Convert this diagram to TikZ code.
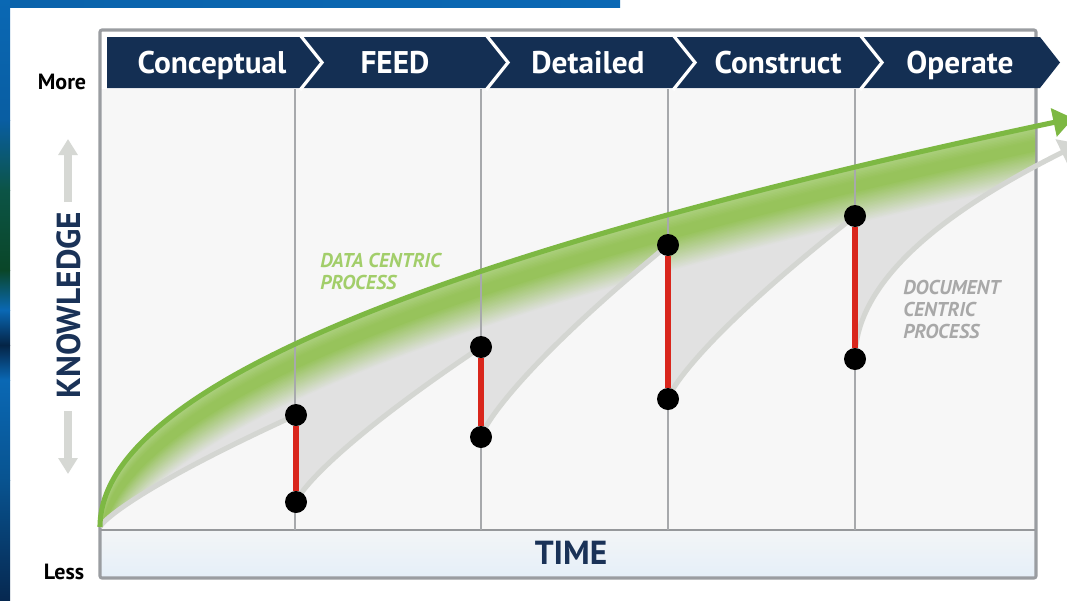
\documentclass[tikz,border=0pt]{standalone}
\usepackage{fontspec}
\setmainfont{PT Sans}
\usetikzlibrary{arrows.meta}

\definecolor{navy}{HTML}{142F53}
\definecolor{navytext}{HTML}{1A3257}
\definecolor{framegray}{HTML}{9A9DA1}
\definecolor{plotbg}{HTML}{F7F7F7}
\definecolor{gridgray}{HTML}{A7A9AC}
\definecolor{bandtop}{HTML}{F3F5F7}
\definecolor{bandbot}{HTML}{E5EFF8}
\definecolor{greenline}{HTML}{7DB843}
\definecolor{bandmid}{HTML}{97C35B}
\definecolor{bandlight}{HTML}{AED182}
\definecolor{fillgray}{HTML}{E1E1E1}
\definecolor{edgegray}{HTML}{D4D6D2}
\definecolor{redbar}{HTML}{D9261C}
\definecolor{datagreen}{HTML}{A2CE6A}
\definecolor{docgray}{HTML}{A8A8A8}
\definecolor{arrowgray}{HTML}{D6D8D4}
\definecolor{bluebg}{HTML}{0A68B4}

\begin{document}
\begin{tikzpicture}[x=0.75pt,y=-0.75pt,
  hdr/.style={anchor=base, text=white, inner sep=0,
    font=\bfseries\fontsize{23.5}{28}\selectfont},
  sidelabel/.style={anchor=base, inner sep=0,
    font=\bfseries\fontsize{16.5}{20}\selectfont},
  axislabel/.style={anchor=base, inner sep=0, text=navytext,
    font=\bfseries\fontsize{25}{30}\selectfont},
  proclabel/.style={anchor=north west, align=left, inner sep=0,
    font=\bfseries\itshape\fontsize{15}{16.5}\selectfont},
  sep/.style={white, line width=2.4pt},
  gridline/.style={gridgray, line width=0.8pt},
  dot/.style={circle, fill=black, minimum size=16.5pt, inner sep=0},
  bar/.style={redbar, line width=5pt},
  docline/.style={edgegray, line width=3.8pt},
  knowline/.style={greenline, line width=3.8pt},
  axisarrow/.style={arrowgray, line width=6.5pt,
    -{Triangle[length=12pt,width=14pt]}},
]
\useasboundingbox (0,0) rectangle (1067,600);
\clip (0,0) rectangle (1067,600);

% page and the blue edge strips
\fill[white] (0,0) rectangle (1067,600);
\shade[left color=bluebg!95!black, right color=bluebg] (0,0) rectangle (620,7);
\shade[top color=bluebg, bottom color=bluebg!90!black] (0,0) rectangle (10,120);
\shade[top color=bluebg!90!black, bottom color={rgb,255:red,12;green,84;blue,70}] (0,120) rectangle (10,190);
\shade[top color={rgb,255:red,12;green,84;blue,70}, bottom color={rgb,255:red,10;green,70;blue,40}] (0,190) rectangle (10,270);
\shade[top color={rgb,255:red,10;green,70;blue,40}, bottom color=bluebg] (0,270) rectangle (10,310);
\shade[top color=bluebg, bottom color={rgb,255:red,4;green,36;blue,70}] (0,310) rectangle (10,345);
\shade[top color={rgb,255:red,4;green,36;blue,70}, bottom color=bluebg] (0,345) rectangle (10,380);
\shade[top color=bluebg, bottom color=bluebg!80!black] (0,380) rectangle (10,480);
\shade[top color=bluebg!80!black, bottom color={rgb,255:red,6;green,40;blue,80}] (0,480) rectangle (10,600);

% chart frame, plot area and time band
\fill[plotbg] (101,89) rectangle (1035,530);
\shade[top color=bandtop, bottom color=bandbot] (101,530) rectangle (1035,577);
\draw[framegray, line width=2.3pt, rounded corners=1.5pt] (100,30) rectangle (1036,578);

% phase header
\fill[navy] (107,37) -- (1040,37) -- (1060,62.5) -- (1040,88) -- (107,88) -- cycle;
\draw[sep] (300,35) -- (322,62.5) -- (300,90);
\draw[sep] (486,35) -- (508,62.5) -- (486,90);
\draw[sep] (673,35) -- (695,62.5) -- (673,90);
\draw[sep] (860,35) -- (882,62.5) -- (860,90);
\node[hdr] (conceptual) at (212,73) {Conceptual};
\node[hdr] (feed) at (395,73) {FEED};
\node[hdr] (detailed) at (588,73) {Detailed};
\node[hdr] (construct) at (778,73) {Construct};
\node[hdr] (operate) at (960,73) {Operate};

% line on top of the time band
\draw[gridgray!90!black, line width=1.1pt] (101,530) -- (1035,530);

% shaded region between the two processes
\begin{scope}
  \clip (100,0) rectangle (1035,600);
  \clip plot[variable=\q, domain=0:30.8, samples=120] ({100+\q*\q},{527-13.1*\q})
    -- (1067,150)
    -- plot[variable=\u, domain=1:0, samples=50] ({855+212*\u*\u},{359-209*\u})
    -- plot[variable=\u, domain=1:0, samples=50] ({668+187*\u*sqrt(sqrt(abs(\u)))},{399-183*\u})
    -- plot[variable=\u, domain=1:0, samples=50] ({481+187*\u*sqrt(sqrt(abs(\u)))},{437-192*\u})
    -- plot[variable=\u, domain=1:0, samples=50] ({296+185*\u*sqrt(sqrt(abs(\u)))},{502-155*\u})
    -- plot[variable=\u, domain=1:0, samples=50] ({100+196*\u*sqrt(sqrt(abs(\u)))},{527-112*\u})
    -- cycle;
  \fill[fillgray] (100,0) rectangle (1035,600);
  \foreach \k in {60,58.5,...,0} {
    \pgfmathtruncatemacro\pa{max(0,min(100,(57-\k)*100/33))}
    \pgfmathtruncatemacro\pb{max(0,min(100,\k*100/14))}
    \colorlet{bandc}{bandmid!\pb!bandlight}
    \draw[line width=1.6pt, bandc!\pa!fillgray]
      plot[variable=\q, domain=0:30.8, samples=110] ({100+\q*\q},{527-13.1*\q+\k});
  }
\end{scope}

% phase boundaries
\foreach \gx in {295,481,668,855}
  \draw[gridline] (\gx,89) -- (\gx,530);

% document centric process
\draw[docline] plot[variable=\u, domain=0:1, samples=50] ({100+196*\u*sqrt(sqrt(abs(\u)))},{527-112*\u});
\draw[docline] plot[variable=\u, domain=0:1, samples=50] ({296+185*\u*sqrt(sqrt(abs(\u)))},{502-155*\u});
\draw[docline] plot[variable=\u, domain=0:1, samples=50] ({481+187*\u*sqrt(sqrt(abs(\u)))},{437-192*\u});
\draw[docline] plot[variable=\u, domain=0:1, samples=50] ({668+187*\u*sqrt(sqrt(abs(\u)))},{399-183*\u});
\draw[docline, -{Triangle[length=15pt,width=21pt]}]
  plot[variable=\u, domain=0:1.03, samples=60] ({855+212*\u*\u},{359-209*\u});

% data centric process
\draw[knowline, -{Triangle[length=15pt,width=21pt]}]
  plot[variable=\q, domain=0:31.2, samples=160] ({100+\q*\q},{527-13.1*\q});

% knowledge loss at each hand-over
\node[dot] (h1) at (296,415) {};
\node[dot] (l1) at (296,502) {};
\node[dot] (h2) at (481,347) {};
\node[dot] (l2) at (481,437) {};
\node[dot] (h3) at (668,245) {};
\node[dot] (l3) at (668,399) {};
\node[dot] (h4) at (855,216) {};
\node[dot] (l4) at (855,359) {};
\draw[bar] (h1) -- (l1);
\draw[bar] (h2) -- (l2);
\draw[bar] (h3) -- (l3);
\draw[bar] (h4) -- (l4);

% process labels
\node[proclabel, text=datagreen] (datalbl) at (320,253) {DATA CENTRIC\\PROCESS};
\node[proclabel, text=docgray] (doclbl) at (903,280) {DOCUMENT\\CENTRIC\\PROCESS};

% axes
\node[sidelabel] (more) at (62,89) {More};
\node[sidelabel] (less) at (64,579) {Less};
\node[axislabel, rotate=90] (knowledge) at (80,305) {KNOWLEDGE};
\node[axislabel] (time) at (571,564) {TIME};
\coordinate (upfrom) at (68,202);
\coordinate (upto) at (68,139);
\coordinate (downfrom) at (68,411);
\coordinate (downto) at (68,474);
\draw[axisarrow] (upfrom) -- (upto);
\draw[axisarrow] (downfrom) -- (downto);
\end{tikzpicture}
\end{document}
